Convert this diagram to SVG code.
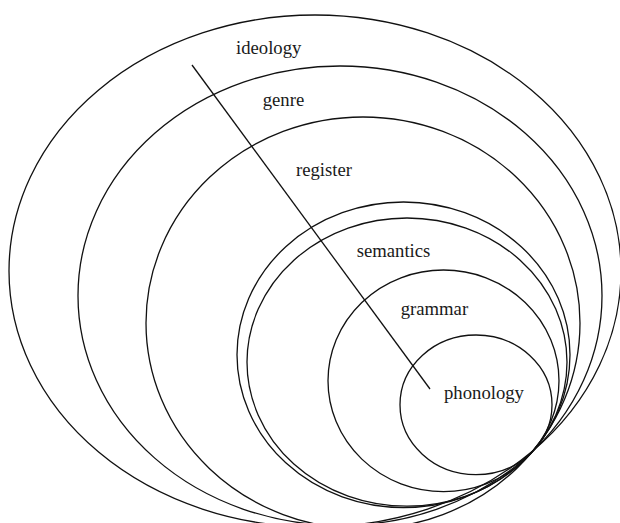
<svg xmlns="http://www.w3.org/2000/svg" width="620" height="523" viewBox="0 0 620 523">
  <style>
    .ring { fill: none; stroke: #111; stroke-width: 1.3; }
    .lbl { font-family: "Liberation Serif", "Times New Roman", serif; font-size: 18.7px; fill: #1a1a1a; }
    .conn { stroke: #111; stroke-width: 1.3; fill: none; }
  </style>
  <rect x="0" y="0" width="620" height="523" fill="#ffffff"/>
  <g id="ideology">
    <ellipse class="ring" cx="315" cy="271" rx="306" ry="256"/>
    <text class="lbl" x="236" y="54">ideology</text>
  </g>
  <g id="genre">
    <ellipse class="ring" cx="340" cy="295.7" rx="262" ry="229.7"/>
    <text class="lbl" x="262.7" y="106">genre</text>
  </g>
  <g id="register">
    <ellipse class="ring" cx="363" cy="323" rx="217" ry="206"/>
    <text class="lbl" x="296" y="176">register</text>
  </g>
  <g id="semantics">
    <ellipse class="ring" cx="403.5" cy="354.8" rx="166.5" ry="152.8"/>
    <ellipse class="ring" cx="407" cy="362.1" rx="160" ry="144.1"/>
    <text class="lbl" x="356.7" y="257">semantics</text>
  </g>
  <g id="grammar">
    <ellipse class="ring" cx="443.5" cy="380.8" rx="115.5" ry="110.8"/>
    <text class="lbl" x="400.7" y="315.3">grammar</text>
  </g>
  <g id="phonology">
    <ellipse class="ring" cx="476" cy="404.8" rx="76" ry="69.8"/>
    <text class="lbl" x="444" y="399.3">phonology</text>
  </g>
  <g id="connectors">
    <line class="conn" x1="192" y1="65" x2="430" y2="389"/>
  </g>
</svg>
